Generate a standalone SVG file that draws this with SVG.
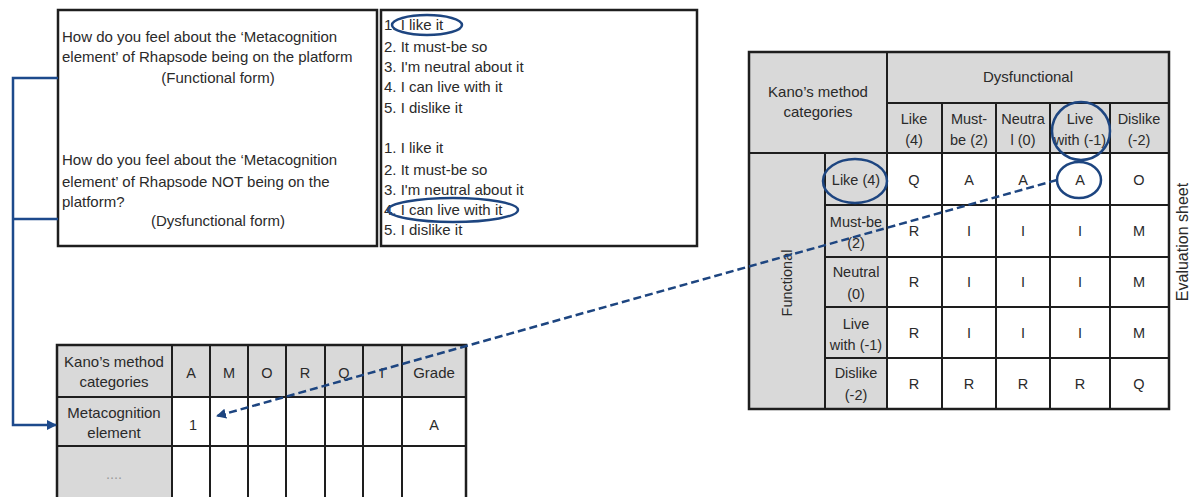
<svg xmlns="http://www.w3.org/2000/svg" width="1194" height="497" viewBox="0 0 1194 497">
  <style>
    text { font-family: "Liberation Sans", Arial, sans-serif; fill: #2a2a2a; }
    .t13 { font-size: 15px; }
    .t12 { font-size: 14.5px; }
    .mid { text-anchor: middle; }
    .box { fill: #ffffff; stroke: #1e1e1e; stroke-width: 2.5; }
    .hd { fill: #d9d9d9; stroke: #1e1e1e; stroke-width: 2; }
    .cell { fill: #ffffff; stroke: #1e1e1e; stroke-width: 2; }
    .ring { fill: none; stroke: #1d4580; stroke-width: 2.5; }
    .link { fill: none; stroke: #1d4a8c; stroke-width: 2.5; }
    .dash { fill: none; stroke: #1d4580; stroke-width: 2.5; stroke-dasharray: 8 4; }
  </style>
  <defs>
    <marker id="arrowSolid" viewBox="0 0 10 10" refX="9" refY="5" markerWidth="4" markerHeight="4" orient="auto">
      <path d="M0,0 L10,5 L0,10 z" fill="#1d4a8c"/>
    </marker>
    <marker id="arrowDash" viewBox="0 0 10 10" refX="9" refY="5" markerWidth="4" markerHeight="4" orient="auto">
      <path d="M0,0 L10,5 L0,10 z" fill="#1d4580"/>
    </marker>
  </defs>
  <rect width="1194" height="497" fill="#ffffff"/>

  <!-- Question box -->
  <g id="questions">
    <rect class="box" x="58" y="10" width="319" height="236"/>
    <text class="t13" x="62" y="42">How do you feel about the ‘Metacognition</text>
    <text class="t13" x="62" y="62">element’ of Rhapsode being on the platform</text>
    <text class="t13 mid" x="218" y="83">(Functional form)</text>
    <text class="t13" x="62" y="165">How do you feel about the ‘Metacognition</text>
    <text class="t13" x="62" y="187">element’ of Rhapsode NOT being on the</text>
    <text class="t13" x="62" y="207">platform?</text>
    <text class="t13 mid" x="218" y="226">(Dysfunctional form)</text>
  </g>

  <!-- Answer box -->
  <g id="answers">
    <rect class="box" x="381" y="10" width="316" height="236"/>
    <text class="t13" x="384" y="30">1. I like it</text>
    <text class="t13" x="384" y="52">2. It must-be so</text>
    <text class="t13" x="384" y="72">3. I'm neutral about it</text>
    <text class="t13" x="384" y="92">4. I can live with it</text>
    <text class="t13" x="384" y="113">5. I dislike it</text>
    <text class="t13" x="384" y="153">1. I like it</text>
    <text class="t13" x="384" y="175">2. It must-be so</text>
    <text class="t13" x="384" y="195">3. I'm neutral about it</text>
    <text class="t13" x="384" y="215">4. I can live with it</text>
    <text class="t13" x="384" y="235">5. I dislike it</text>
    <ellipse class="ring" cx="427" cy="25" rx="35" ry="10"/>
    <ellipse class="ring" cx="453" cy="210" rx="65" ry="12"/>
  </g>

  <!-- Evaluation sheet -->
  <g id="evaluation-sheet">
    <rect class="hd" x="749" y="52" width="138" height="101"/>
    <rect class="hd" x="887" y="52" width="282" height="51"/>
    <rect class="hd" x="887" y="103" width="55" height="50"/>
    <rect class="hd" x="942" y="103" width="54" height="50"/>
    <rect class="hd" x="996" y="103" width="54" height="50"/>
    <rect class="hd" x="1050" y="103" width="60" height="50"/>
    <rect class="hd" x="1110" y="103" width="59" height="50"/>
    <rect class="hd" x="749" y="153" width="76" height="256"/>
    <rect class="hd" x="825" y="153" width="62" height="52"/>
    <rect class="hd" x="825" y="205" width="62" height="52"/>
    <rect class="hd" x="825" y="257" width="62" height="50"/>
    <rect class="hd" x="825" y="307" width="62" height="51"/>
    <rect class="hd" x="825" y="358" width="62" height="51"/>
    <g id="eval-cells">
      <rect class="cell" x="887" y="153" width="55" height="52"/><rect class="cell" x="942" y="153" width="54" height="52"/><rect class="cell" x="996" y="153" width="54" height="52"/><rect class="cell" x="1050" y="153" width="60" height="52"/><rect class="cell" x="1110" y="153" width="59" height="52"/>
      <rect class="cell" x="887" y="205" width="55" height="52"/><rect class="cell" x="942" y="205" width="54" height="52"/><rect class="cell" x="996" y="205" width="54" height="52"/><rect class="cell" x="1050" y="205" width="60" height="52"/><rect class="cell" x="1110" y="205" width="59" height="52"/>
      <rect class="cell" x="887" y="257" width="55" height="50"/><rect class="cell" x="942" y="257" width="54" height="50"/><rect class="cell" x="996" y="257" width="54" height="50"/><rect class="cell" x="1050" y="257" width="60" height="50"/><rect class="cell" x="1110" y="257" width="59" height="50"/>
      <rect class="cell" x="887" y="307" width="55" height="51"/><rect class="cell" x="942" y="307" width="54" height="51"/><rect class="cell" x="996" y="307" width="54" height="51"/><rect class="cell" x="1050" y="307" width="60" height="51"/><rect class="cell" x="1110" y="307" width="59" height="51"/>
      <rect class="cell" x="887" y="358" width="55" height="51"/><rect class="cell" x="942" y="358" width="54" height="51"/><rect class="cell" x="996" y="358" width="54" height="51"/><rect class="cell" x="1050" y="358" width="60" height="51"/><rect class="cell" x="1110" y="358" width="59" height="51"/>
    </g>
    <rect x="749" y="52" width="420" height="357" fill="none" stroke="#1e1e1e" stroke-width="2.5"/>

    <text class="t13 mid" x="818" y="97">Kano’s method</text>
    <text class="t13 mid" x="818" y="117">categories</text>
    <text class="t13 mid" x="1028" y="82">Dysfunctional</text>
    <text class="t12 mid" x="914" y="124">Like</text><text class="t12 mid" x="914" y="145">(4)</text>
    <text class="t12 mid" x="969" y="124">Must-</text><text class="t12 mid" x="969" y="145">be (2)</text>
    <text class="t12 mid" x="1023" y="124">Neutra</text><text class="t12 mid" x="1023" y="145">l (0)</text>
    <text class="t12 mid" x="1080" y="124">Live</text><text class="t12 mid" x="1080" y="145">with (-1)</text>
    <text class="t12 mid" x="1139" y="124">Dislike</text><text class="t12 mid" x="1139" y="145">(-2)</text>

    <text class="t12 mid" transform="translate(792,283) rotate(-90)">Functional</text>
    <text class="t12 mid" x="856" y="185">Like (4)</text>
    <text class="t12 mid" x="856" y="227">Must-be</text><text class="t12 mid" x="856" y="248">(2)</text>
    <text class="t12 mid" x="856" y="277">Neutral</text><text class="t12 mid" x="856" y="299">(0)</text>
    <text class="t12 mid" x="856" y="329">Live</text><text class="t12 mid" x="856" y="350">with (-1)</text>
    <text class="t12 mid" x="856" y="378">Dislike</text><text class="t12 mid" x="856" y="400">(-2)</text>

    <g id="eval-grades">
      <text class="t12 mid" x="914" y="185">Q</text><text class="t12 mid" x="969" y="185">A</text><text class="t12 mid" x="1023" y="185">A</text><text class="t12 mid" x="1080" y="185">A</text><text class="t12 mid" x="1139" y="185">O</text>
      <text class="t12 mid" x="914" y="236">R</text><text class="t12 mid" x="969" y="236">I</text><text class="t12 mid" x="1023" y="236">I</text><text class="t12 mid" x="1080" y="236">I</text><text class="t12 mid" x="1139" y="236">M</text>
      <text class="t12 mid" x="914" y="287">R</text><text class="t12 mid" x="969" y="287">I</text><text class="t12 mid" x="1023" y="287">I</text><text class="t12 mid" x="1080" y="287">I</text><text class="t12 mid" x="1139" y="287">M</text>
      <text class="t12 mid" x="914" y="338">R</text><text class="t12 mid" x="969" y="338">I</text><text class="t12 mid" x="1023" y="338">I</text><text class="t12 mid" x="1080" y="338">I</text><text class="t12 mid" x="1139" y="338">M</text>
      <text class="t12 mid" x="914" y="389">R</text><text class="t12 mid" x="969" y="389">R</text><text class="t12 mid" x="1023" y="389">R</text><text class="t12 mid" x="1080" y="389">R</text><text class="t12 mid" x="1139" y="389">Q</text>
    </g>

    <text class="mid" transform="translate(1188,242) rotate(-90)" style="font-size:16px">Evaluation sheet</text>

    <circle class="ring" cx="1081" cy="131" r="29"/>
    <ellipse class="ring" cx="855" cy="181" rx="32" ry="22"/>
    <ellipse class="ring" cx="1079" cy="180" rx="22" ry="18"/>
  </g>

  <!-- Result table -->
  <g id="result-table">
    <rect class="hd" x="57" y="345" width="409" height="52"/>
    <rect class="hd" x="57" y="397" width="115" height="49"/>
    <rect class="hd" x="57" y="446" width="115" height="55"/>
    <rect class="cell" x="172" y="397" width="38" height="49"/><rect class="cell" x="210" y="397" width="38" height="49"/><rect class="cell" x="248" y="397" width="38" height="49"/><rect class="cell" x="286" y="397" width="39" height="49"/><rect class="cell" x="325" y="397" width="38" height="49"/><rect class="cell" x="363" y="397" width="39" height="49"/><rect class="cell" x="402" y="397" width="64" height="49"/>
    <rect class="cell" x="172" y="446" width="38" height="55"/><rect class="cell" x="210" y="446" width="38" height="55"/><rect class="cell" x="248" y="446" width="38" height="55"/><rect class="cell" x="286" y="446" width="39" height="55"/><rect class="cell" x="325" y="446" width="38" height="55"/><rect class="cell" x="363" y="446" width="39" height="55"/><rect class="cell" x="402" y="446" width="64" height="55"/>
    <path d="M172,345V397 M210,345V397 M248,345V397 M286,345V397 M325,345V397 M363,345V397 M402,345V397" stroke="#1e1e1e" stroke-width="2"/>
    <rect x="57" y="345" width="409" height="156" fill="none" stroke="#1e1e1e" stroke-width="2.5"/>

    <text class="t13 mid" x="114" y="367">Kano’s method</text>
    <text class="t13 mid" x="114" y="387">categories</text>
    <text class="t12 mid" x="191" y="378">A</text>
    <text class="t12 mid" x="229" y="378">M</text>
    <text class="t12 mid" x="267" y="378">O</text>
    <text class="t12 mid" x="305" y="378">R</text>
    <text class="t12 mid" x="344" y="378">Q</text>
    <text class="t12 mid" x="382" y="378">I</text>
    <text class="t13 mid" x="434" y="378">Grade</text>
    <text class="t13 mid" x="114" y="418">Metacognition</text>
    <text class="t13 mid" x="114" y="438">element</text>
    <text class="t12 mid" x="193" y="430">1</text>
    <text class="t12 mid" x="434" y="430">A</text>
    <text class="t12 mid" x="114" y="479" style="fill:#999">....</text>
  </g>

  <!-- Connectors -->
  <g id="connectors">
    <path class="link" d="M58,78 H13 V425 H56" marker-end="url(#arrowSolid)"/>
    <path class="link" d="M58,219 H13"/>
    <path class="dash" d="M1057,180 L217,416" marker-end="url(#arrowDash)"/>
  </g>
</svg>
